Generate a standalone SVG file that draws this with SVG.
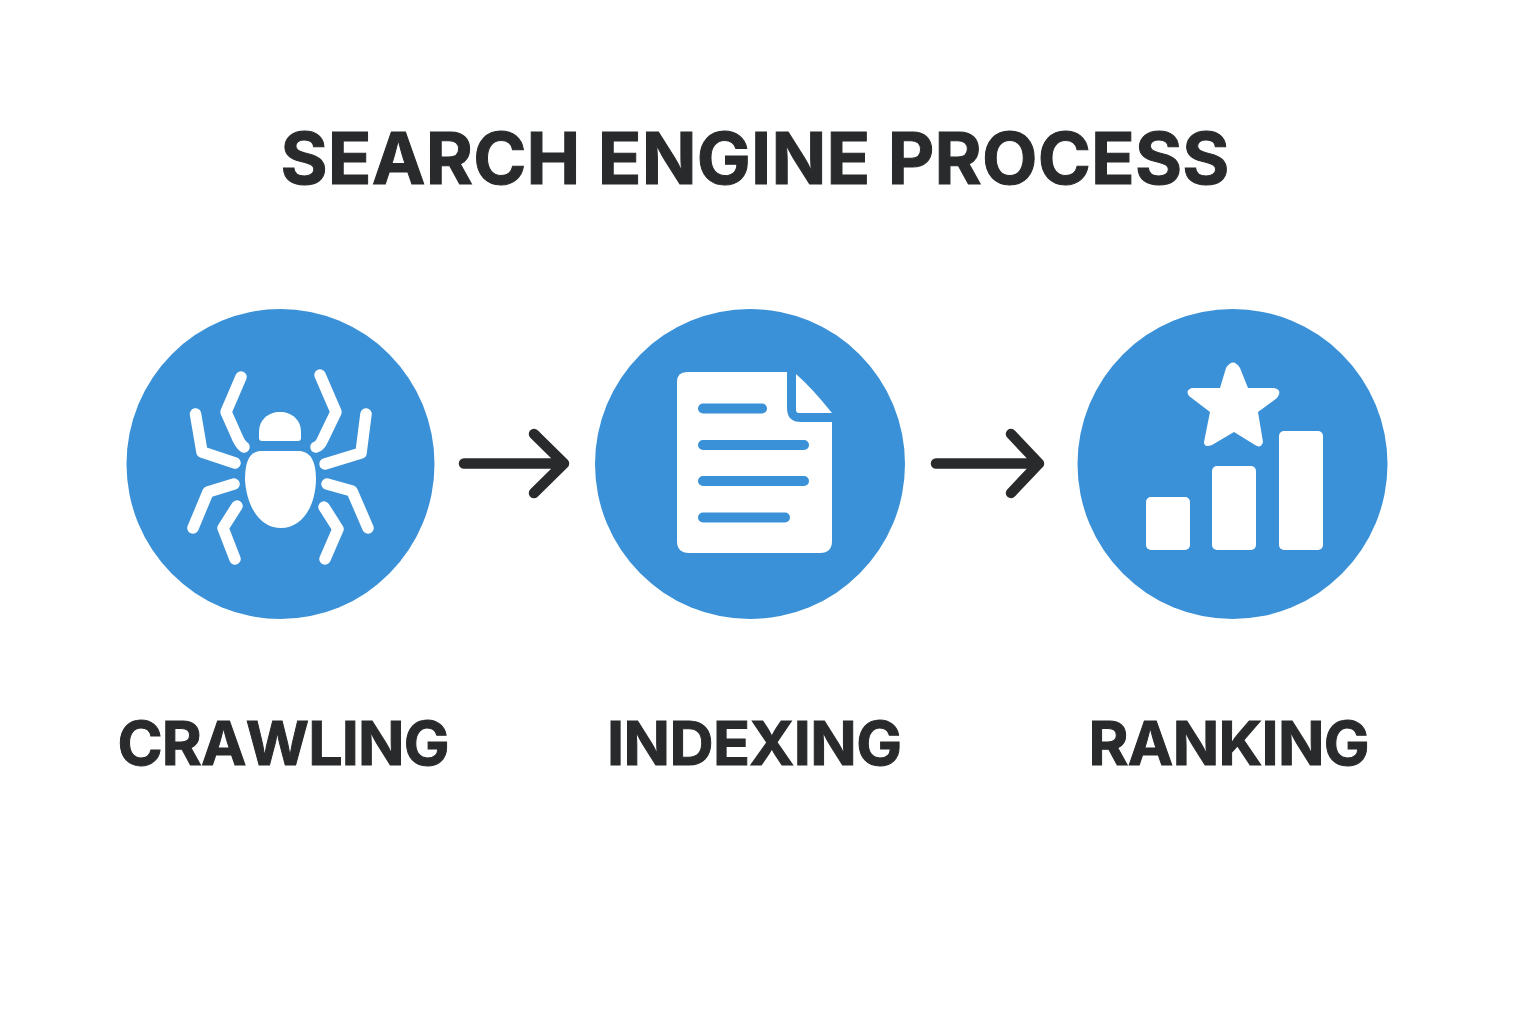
<svg xmlns="http://www.w3.org/2000/svg" width="1536" height="1024" viewBox="0 0 1536 1024">
<style>
.t{font-family:"Inter","Liberation Sans",sans-serif;font-weight:700;font-kerning:none;fill:#282a2b;stroke:#282a2b;stroke-width:1;text-anchor:middle}
.c{fill:#3a91d7}
.w{fill:#fff}
.l{fill:none;stroke:#fff;stroke-width:11.500;stroke-linecap:round;stroke-linejoin:round}
.b{fill:none;stroke:#3a91d7;stroke-width:10;stroke-linecap:round}
.a{fill:none;stroke:#282a2b;stroke-width:10.500;stroke-linecap:round;stroke-linejoin:round}
</style>
<rect width="1536" height="1024" fill="#fff"/>
<text id="title" class="t" x="755" y="184" font-size="72" textLength="949" lengthAdjust="spacing">SEARCH ENGINE PROCESS</text>
<g id="connectors">
<path class="a" d="M464 463.500H564M534 434L564 463.500L534 493"/>
<path class="a" d="M936 463.500H1039M1011 434L1039 463.500L1011 493"/>
</g>
<g id="crawling">
<ellipse class="c" cx="280.500" cy="464" rx="154" ry="155"/>
<path class="w" d="M259 438V432C259 420 268 412 280 412C292 412 301 420 301 432V438Q301 441 298 441H262Q259 441 259 438Z"/>
<path class="w" d="M262 451H298C310 451 316 460 316 480C315 510 300 528 281 528C262 528 247 510 245 480C245 460 250 451 262 451Z"/>
<path class="l" d="M241 377L226 412L238 439Q241 445 244 447"/>
<path class="l" d="M320 375L336 412L323 439Q320 446 316 447"/>
<path class="l" d="M195.500 414L202 452L235 463"/>
<path class="l" d="M366 414L361 453L325 464"/>
<path class="l" d="M193 528L208 492L234 484"/>
<path class="l" d="M368 528L352 491L327 484"/>
<path class="l" d="M235 559L223 528L237 506"/>
<path class="l" d="M325 559L338 529L324 507"/>
</g>
<text id="crawling-label" class="t" x="283.500" y="765" font-size="61" textLength="332" lengthAdjust="spacing">CRAWLING</text>
<g id="indexing">
<ellipse class="c" cx="750" cy="464" rx="155" ry="155"/>
<path class="w" d="M687 372H787V408Q787 422 801 422H832V541Q832 553 820 553H689Q677 553 677 541V382Q677 372 687 372Z"/>
<path class="w" d="M796 374Q812 388 832 413H799Q796 413 796 410Z"/>
<path class="b" d="M703 408.500H762M703 445H804M703 481H804M703 517.500H785"/>
</g>
<text id="indexing-label" class="t" x="754.500" y="765" font-size="61" textLength="295" lengthAdjust="spacing">INDEXING</text>
<g id="ranking">
<ellipse class="c" cx="1232.500" cy="464" rx="155" ry="155"/>
<path class="w" d="M1226 368Q1233 357 1240 368L1248 388H1274Q1283 390 1277 398L1258 412L1263 442Q1261 449 1255 445L1234 432L1212 445Q1204 448 1204 442L1210 412L1189 396Q1185 390 1192 388H1220Z"/>
<rect class="w" x="1146" y="497" width="44" height="53" rx="5"/>
<rect class="w" x="1212" y="466" width="44" height="84" rx="5"/>
<rect class="w" x="1279" y="431" width="44" height="119" rx="5"/>
</g>
<text id="ranking-label" class="t" x="1229" y="765" font-size="61" textLength="281" lengthAdjust="spacing">RANKING</text>
</svg>
